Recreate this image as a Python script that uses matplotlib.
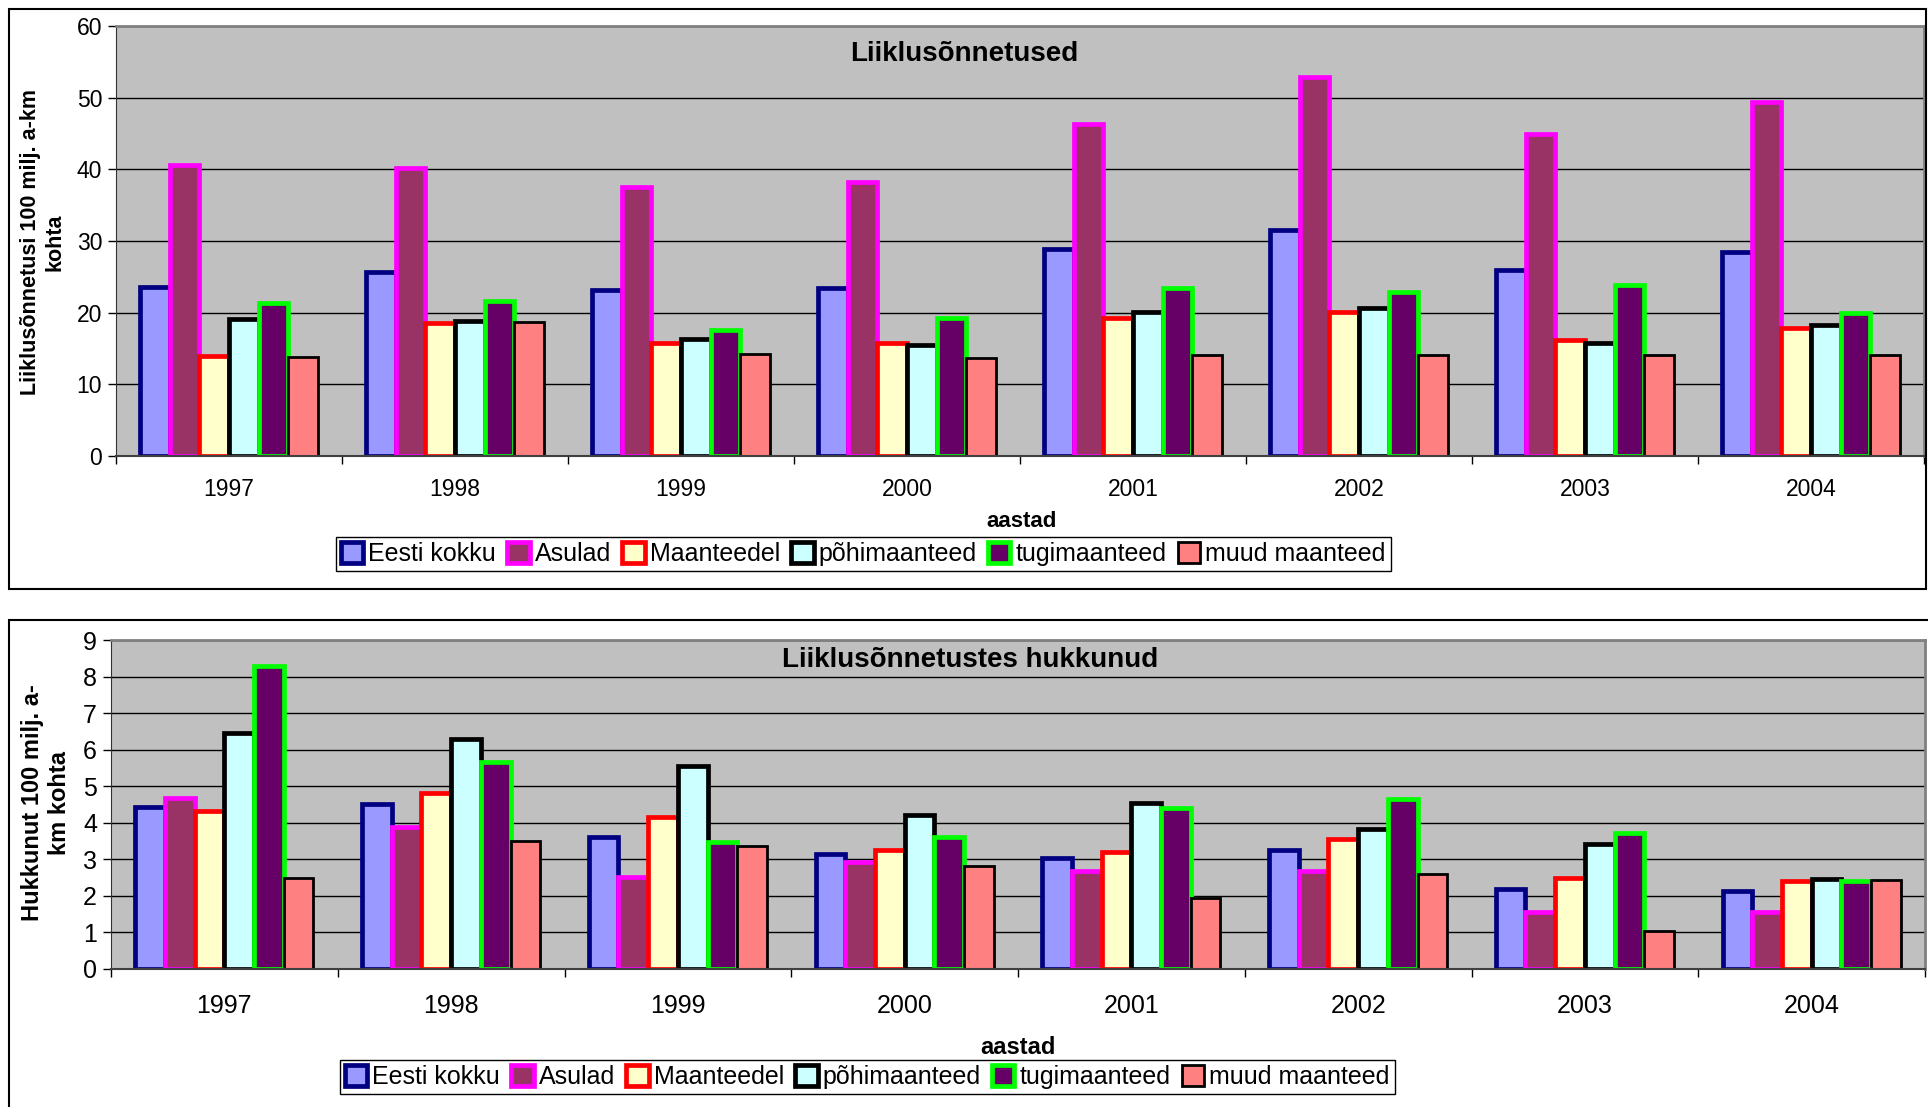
import numpy as np
import matplotlib
matplotlib.use("Agg")
import matplotlib.pyplot as plt
from matplotlib.patches import Rectangle

plt.rcParams['font.family'] = ['Liberation Sans', 'DejaVu Sans']

aastad = ['1997', '1998', '1999', '2000', '2001', '2002', '2003', '2004']
seeriad = ['Eesti kokku', 'Asulad', 'Maanteedel', 'põhimaanteed', 'tugimaanteed', 'muud maanteed']

# liiklusõnnetused 100 milj. a-km kohta
onn_eesti = [23.6, 25.7, 23.1, 23.4, 28.9, 31.6, 26.0, 28.4]
onn_asulad = [40.6, 40.2, 37.5, 38.3, 46.3, 52.9, 45.0, 49.4]
onn_maanteedel = [14.0, 18.5, 15.8, 15.7, 19.3, 20.1, 16.2, 17.8]
onn_pohi = [19.1, 18.8, 16.3, 15.5, 20.1, 20.7, 15.8, 18.3]
onn_tugi = [21.3, 21.6, 17.6, 19.3, 23.4, 22.9, 23.9, 20.0]
onn_muud = [13.8, 18.7, 14.2, 13.7, 14.1, 14.1, 14.1, 14.1]

# hukkunud 100 milj. a-km kohta
huk_eesti = [4.43, 4.52, 3.62, 3.15, 3.04, 3.26, 2.19, 2.13]
huk_asulad = [4.69, 3.88, 2.51, 2.92, 2.68, 2.69, 1.56, 1.56]
huk_maanteedel = [4.32, 4.82, 4.17, 3.26, 3.21, 3.56, 2.49, 2.40]
huk_pohi = [6.46, 6.29, 5.54, 4.20, 4.54, 3.82, 3.42, 2.47]
huk_tugi = [8.29, 5.67, 3.47, 3.60, 4.41, 4.66, 3.71, 2.42]
huk_muud = [2.49, 3.51, 3.37, 2.82, 1.95, 2.59, 1.04, 2.43]

taidis = ['#9999FF', '#993366', '#FFFFCC', '#CCFFFF', '#660066', '#FF8080']
aarised = ['#000080', '#FF00FF', '#FF0000', '#000000', '#00FF00', '#000000']
joonelaiused = [3.4, 3.4, 3.4, 3.4, 3.4, 2.0]

W, H = 1928, 1107
fig = plt.figure(figsize=(W / 100, H / 100), dpi=100)


def fx(px):
    return px / W


def fy(py):
    return 1 - py / H


def joonista(ax, andmed, ymax, ysamm, tick_fs, pad):
    x = np.arange(len(aastad))
    w = 0.131
    for i, vals in enumerate(andmed):
        ax.bar(x + (i - 2.5) * w, vals, width=w, color=taidis[i],
               edgecolor=aarised[i], linewidth=joonelaiused[i],
               label=seeriad[i], zorder=3)
    ax.set_facecolor('#C0C0C0')
    ax.set_xlim(-0.5, len(aastad) - 0.5)
    ax.set_ylim(0, ymax)
    ax.set_yticks(np.arange(0, ymax + 0.01, ysamm))
    ax.yaxis.grid(True, color='black', linewidth=1.0)
    ax.set_axisbelow(True)
    ax.set_xticks(x)
    ax.set_xticklabels(aastad, fontsize=tick_fs)
    ax.set_xticks(np.arange(-0.5, len(aastad), 1), minor=True)
    ax.tick_params(axis='x', which='major', length=0, pad=pad)
    ax.tick_params(axis='x', which='minor', length=6, width=1, direction='out')
    ax.tick_params(axis='y', length=6, width=1, direction='out',
                   labelsize=tick_fs, pad=4)
    ax.spines['top'].set_color('#808080')
    ax.spines['top'].set_linewidth(2)
    ax.spines['right'].set_color('#808080')
    ax.spines['right'].set_linewidth(2)
    ax.spines['left'].set_color('#333333')
    ax.spines['bottom'].set_color('#404040')
    ax.spines['bottom'].set_linewidth(1.5)
    ax.spines['bottom'].set_zorder(4)


# ülemine paneel
fig.add_artist(Rectangle((fx(9), fy(589)), fx(1926) - fx(9), fy(9) - fy(589),
                         transform=fig.transFigure, fill=False,
                         edgecolor='black', linewidth=1.5))
ax1 = fig.add_axes([fx(116), fy(456), fx(1924) - fx(116), fy(26) - fy(456)])
joonista(ax1, [onn_eesti, onn_asulad, onn_maanteedel, onn_pohi, onn_tugi, onn_muud],
         60, 10, 16.5, 16)
fig.text(fx(964), fy(54), 'Liiklusõnnetused', fontsize=20, fontweight='bold',
         ha='center', va='center')
fig.text(fx(43), fy(242), 'Liiklusõnnetusi 100 milj. a-km\nkohta', rotation=90,
         fontsize=15.5, fontweight='bold', ha='center', va='center',
         multialignment='center')
fig.text(fx(1022), fy(521), 'aastad', fontsize=16, fontweight='bold',
         ha='center', va='center')
h, l = ax1.get_legend_handles_labels()
fig.legend(h, l, loc='center', bbox_to_anchor=(fx(863), fy(554)), ncol=6,
           fontsize=18, fancybox=False, edgecolor='black', framealpha=1,
           handlelength=0.9, handleheight=0.9, handletextpad=0.2,
           columnspacing=0.45, borderpad=0.2)

# alumine paneel
fig.add_artist(Rectangle((fx(9), fy(1120)), fx(1940) - fx(9), fy(620) - fy(1120),
                         transform=fig.transFigure, fill=False,
                         edgecolor='black', linewidth=1.5))
ax2 = fig.add_axes([fx(111), fy(969), fx(1925) - fx(111), fy(640) - fy(969)])
joonista(ax2, [huk_eesti, huk_asulad, huk_maanteedel, huk_pohi, huk_tugi, huk_muud],
         9, 1, 18, 18)
fig.text(fx(970), fy(660), 'Liiklusõnnetustes hukkunud', fontsize=20,
         fontweight='bold', ha='center', va='center')
fig.text(fx(46), fy(803), 'Hukkunut 100 milj. a-\nkm kohta', rotation=90,
         fontsize=17, fontweight='bold', ha='center', va='center',
         multialignment='center')
fig.text(fx(1018), fy(1047), 'aastad', fontsize=17, fontweight='bold',
         ha='center', va='center')
h, l = ax2.get_legend_handles_labels()
fig.legend(h, l, loc='center', bbox_to_anchor=(fx(867), fy(1077)), ncol=6,
           fontsize=18, fancybox=False, edgecolor='black', framealpha=1,
           handlelength=0.9, handleheight=0.9, handletextpad=0.2,
           columnspacing=0.45, borderpad=0.2)

fig.savefig('out.png', dpi=100)
